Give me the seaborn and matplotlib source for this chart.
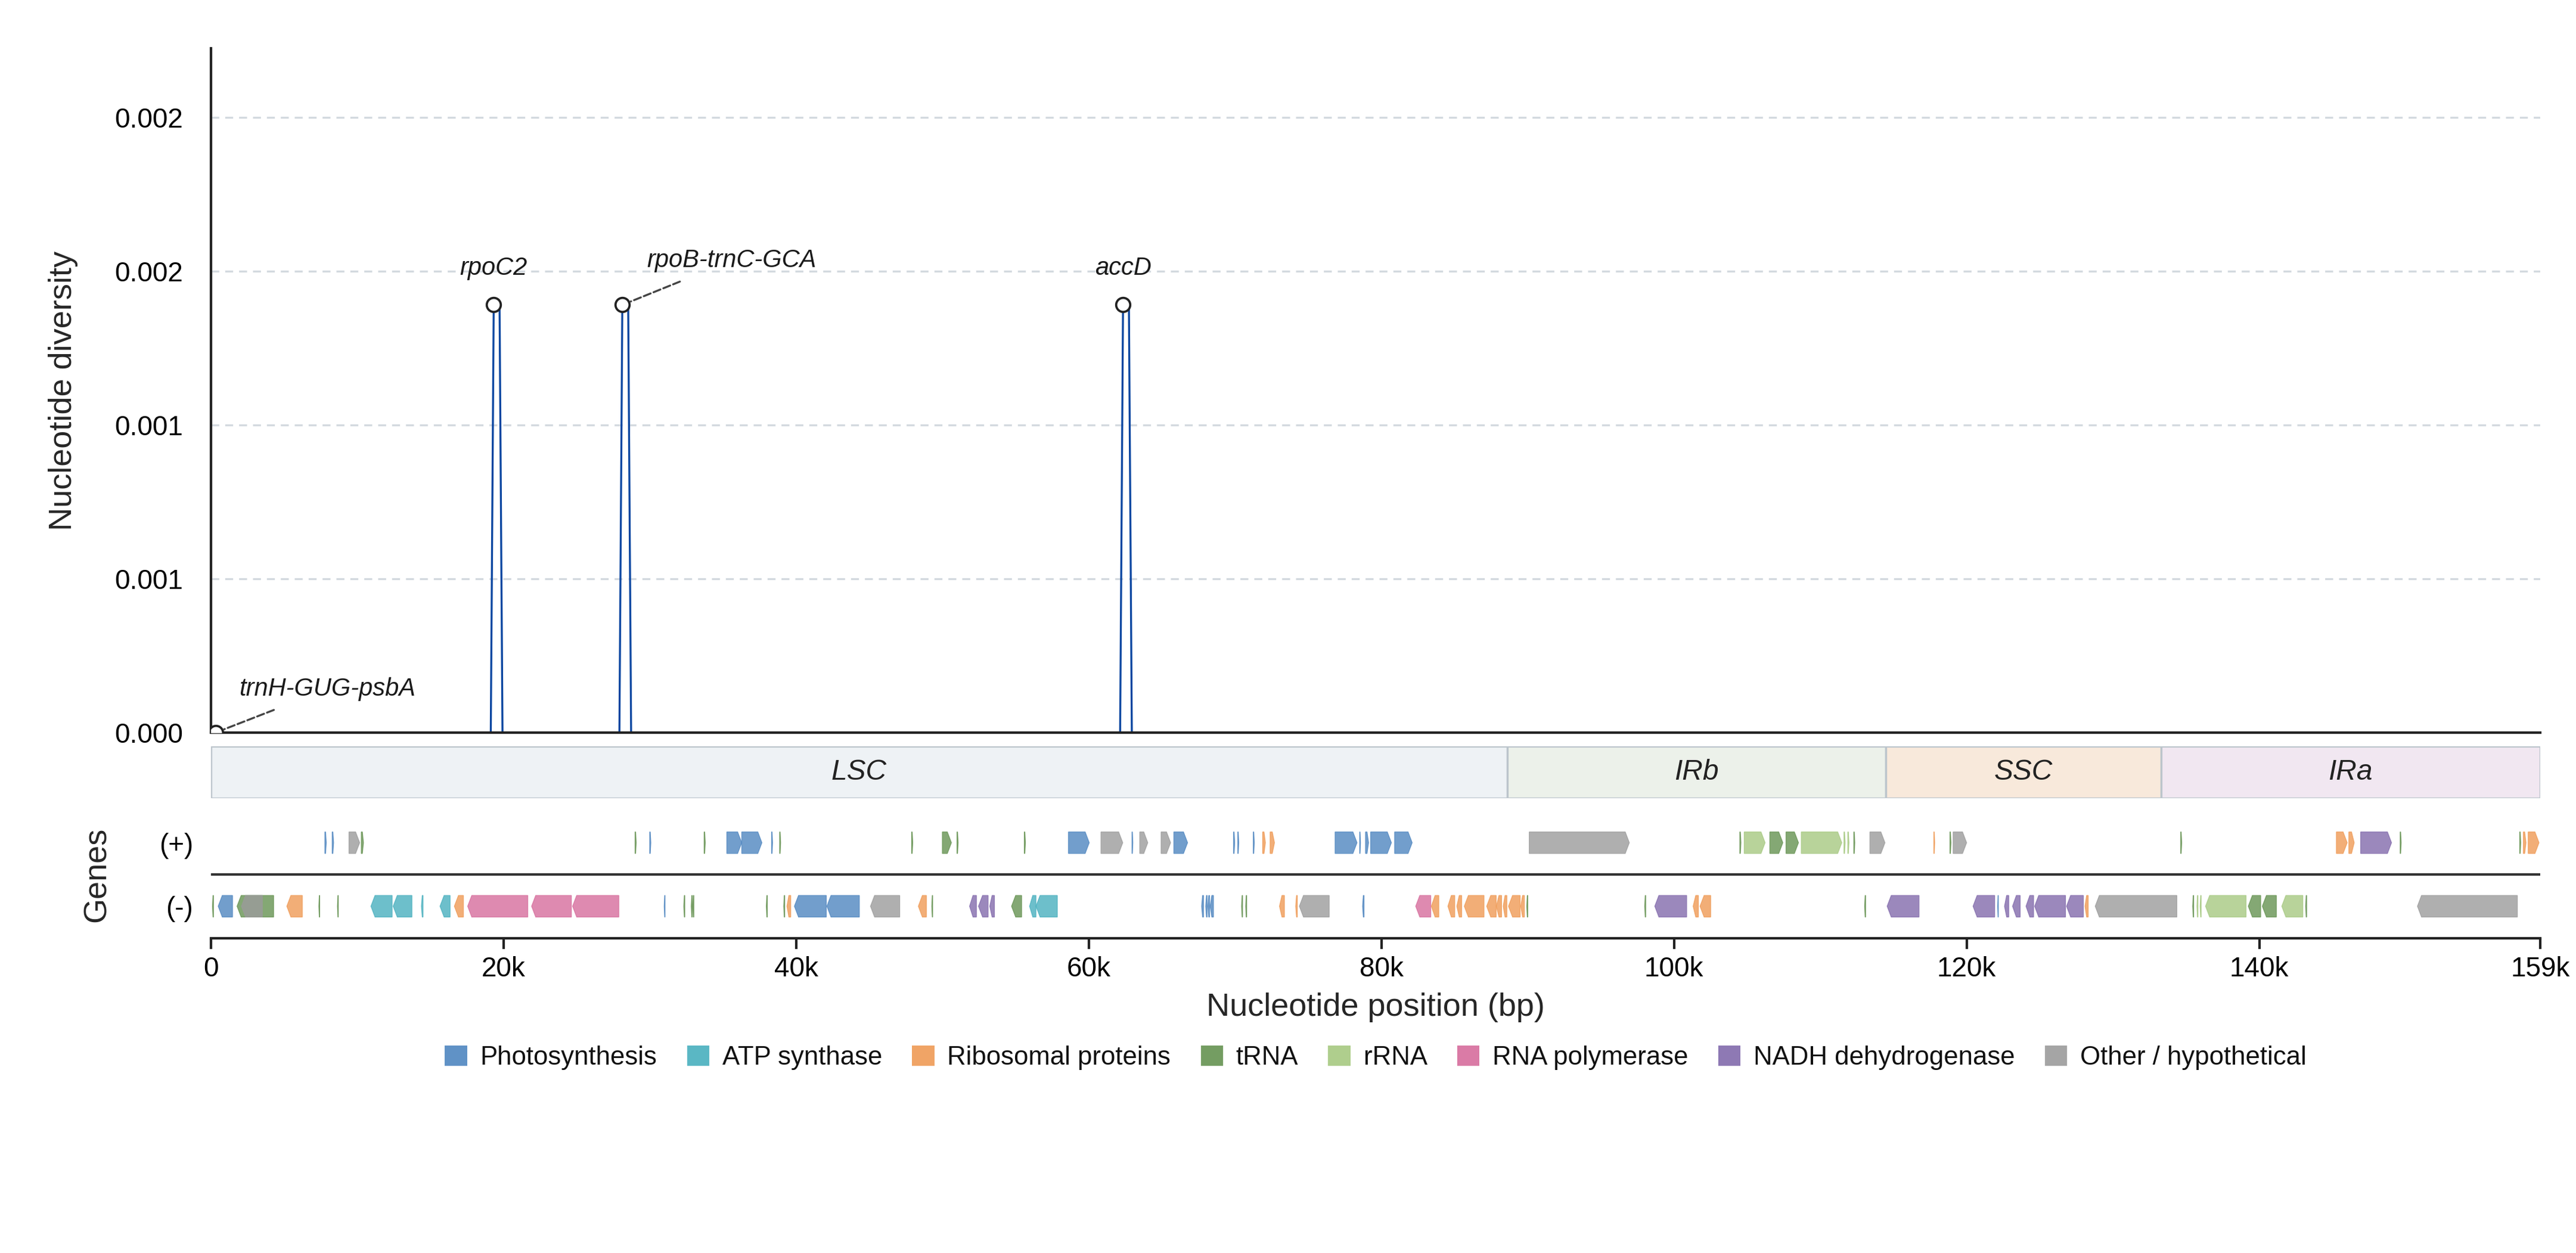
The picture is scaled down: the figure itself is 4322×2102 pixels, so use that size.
import matplotlib
matplotlib.use("Agg")
import numpy as np
import pandas as pd
import matplotlib.pyplot as plt
import seaborn as sns
from matplotlib.patches import Polygon, Rectangle, Patch

GENOME_LEN = 159200

# sliding-window nucleotide diversity (windows where the curve changes)
pi_pos = [330, 19140, 19340, 19540, 19740, 19940,
          27930, 28130, 28330, 28530, 28730,
          62150, 62350, 62550, 62750, 62950, 158900]
pi_val = [0, 0, 0.00139, 0.00139, 0.00139, 0,
          0, 0.00139, 0.00139, 0.00139, 0,
          0, 0.00139, 0.00139, 0.00139, 0, 0]

# labelled windows
peak_labels = ["trnH-GUG-psbA", "rpoC2", "rpoB-trnC-GCA", "accD"]
peak_pos = [330, 19340, 28130, 62350]
peak_val = [0, 0.00139, 0.00139, 0.00139]

region_names = ["LSC", "IRb", "SSC", "IRa"]
region_start = [0, 88600, 114480, 133280]
region_end = [88600, 114480, 133280, 159200]
region_colors = ["#eef2f5", "#ecf1ea", "#f8e9db", "#f1e7f1"]

cat_codes = ["PS", "ATP", "RP", "TRNA", "RRNA", "RNAP", "NDH", "OTH"]
cat_names = ["Photosynthesis", "ATP synthase", "Ribosomal proteins", "tRNA",
             "rRNA", "RNA polymerase", "NADH dehydrogenase", "Other / hypothetical"]
cat_colors = ["#4f86c0", "#48afbe", "#ef9a55", "#659251",
              "#a6c981", "#d66d9c", "#826aac", "#9b9b9b"]

# genes on the (+) strand
plus_start = [7800, 8300, 9450, 10290, 29000, 30000, 33720, 35270, 36290, 38330,
              38880, 47900, 50000, 51000, 55600, 58620, 60840, 62960, 63490, 64950,
              65820, 69900, 70190, 71250, 71890, 72400, 76840, 78520, 78920, 79270,
              80910, 90110, 104500, 104800, 106550, 107660, 108700, 111620, 111880, 112290,
              113390, 117760, 118860, 119080, 134630, 145270, 146120, 146930, 149630, 157800,
              158050, 158380]
plus_end = [7900, 8400, 10180, 10440, 29080, 30080, 33800, 36290, 37670, 38400,
            38950, 47980, 50620, 51080, 55680, 60040, 62330, 63020, 64040, 65600,
            66760, 69980, 70260, 71320, 72080, 72700, 78340, 78580, 79130, 80690,
            82110, 96950, 104580, 106230, 107440, 108510, 111470, 111700, 111960, 112360,
            114420, 117820, 118930, 120000, 134700, 146010, 146490, 149040, 149700, 157870,
            158230, 159120]
plus_cat = ["PS", "PS", "OTH", "TRNA", "TRNA", "PS", "TRNA", "PS", "PS", "PS",
            "TRNA", "TRNA", "TRNA", "TRNA", "TRNA", "PS", "OTH", "PS", "OTH", "OTH",
            "PS", "PS", "PS", "PS", "RP", "RP", "PS", "PS", "PS", "PS",
            "PS", "OTH", "TRNA", "RRNA", "TRNA", "TRNA", "RRNA", "RRNA", "RRNA", "TRNA",
            "OTH", "RP", "TRNA", "OTH", "TRNA", "RP", "RP", "NDH", "TRNA", "TRNA",
            "RP", "RP"]

# genes on the (-) strand
minus_start = [120, 510, 1800, 2100, 5200, 7390, 8660, 10950, 12470, 14400,
               15670, 16650, 17560, 21930, 24730, 30990, 32330, 32840, 32950, 37970,
               39160, 39380, 39890, 42110, 45090, 48360, 49280, 51860, 52470, 53240,
               54730, 55960, 56400, 67720, 68000, 68150, 68300, 70450, 70730, 73040,
               74150, 74400, 78720, 82350, 83420, 84550, 85160, 85670, 87200, 87860,
               88330, 88690, 89530, 89940, 98000, 98690, 101310, 101780, 113030, 114570,
               120440, 122120, 122590, 123140, 124060, 124650, 126830, 128090, 128790, 135450,
               135740, 135960, 136330, 139250, 140210, 141540, 143170, 150810]
minus_end = [190, 1490, 4300, 3530, 6260, 7450, 8720, 12400, 13750, 14510,
             16360, 17270, 21670, 24650, 27890, 31050, 32400, 32910, 33020, 38040,
             39230, 39640, 42070, 44330, 47090, 48910, 49340, 52330, 53130, 53560,
             55420, 56400, 57860, 67850, 68100, 68260, 68530, 70520, 70800, 73380,
             74260, 76440, 78820, 83380, 83930, 85020, 85490, 87020, 87850, 88220,
             88580, 89490, 89780, 90010, 98070, 100870, 101670, 102510, 113100, 116750,
             121920, 122170, 122880, 123660, 124580, 126760, 127980, 128310, 134370, 135520,
             135810, 136030, 139100, 140100, 141170, 142980, 143240, 157640]
minus_cat = ["TRNA", "PS", "TRNA", "OTH", "RP", "TRNA", "TRNA", "ATP", "ATP", "ATP",
             "ATP", "RP", "RNAP", "RNAP", "RNAP", "PS", "TRNA", "TRNA", "TRNA", "TRNA",
             "TRNA", "RP", "PS", "PS", "OTH", "RP", "TRNA", "NDH", "NDH", "NDH",
             "TRNA", "ATP", "ATP", "PS", "PS", "PS", "PS", "TRNA", "TRNA", "RP",
             "RP", "OTH", "PS", "RNAP", "RP", "RP", "RP", "RP", "RP", "RP",
             "RP", "RP", "RP", "TRNA", "TRNA", "NDH", "RP", "RP", "TRNA", "NDH",
             "NDH", "PS", "NDH", "NDH", "NDH", "NDH", "NDH", "RP", "OTH", "TRNA",
             "RRNA", "RRNA", "RRNA", "TRNA", "TRNA", "RRNA", "TRNA", "OTH"]

x_ticks = [0, 20000, 40000, 60000, 80000, 100000, 120000, 140000, GENOME_LEN]

sns.set_theme(style="white")
plt.rcParams["font.family"] = ["Liberation Sans", "DejaVu Sans"]
plt.rcParams["axes.edgecolor"] = "#222222"
plt.rcParams["text.color"] = "#111111"

color_of = dict(zip(cat_codes, cat_colors))
ink = "#222222"

fig = plt.figure(figsize=(4322 / 300, 2102 / 300), dpi=300)
left, width = 0.0818, 0.9043
ax_pi = fig.add_axes([left, 0.4153, width, 0.5462])
ax_reg = fig.add_axes([left, 0.3630, width, 0.0415])
ax_gene = fig.add_axes([left, 0.2514, width, 0.1014])

# --- nucleotide diversity panel
pi_df = pd.DataFrame({"pos": pi_pos, "pi": pi_val})
sns.lineplot(data=pi_df, x="pos", y="pi", ax=ax_pi, color="#0d47a1",
             linewidth=0.8, estimator=None, sort=True)
ax_pi.scatter(peak_pos, peak_val, s=32, facecolor="white", edgecolor=ink,
              linewidths=0.9, zorder=5)

ytop = max(pi_val) * 1.6
ax_pi.set_xlim(0, GENOME_LEN)
ax_pi.set_ylim(0, ytop)
yt = [0, 0.0005, 0.001, 0.0015, 0.002, ytop]
ax_pi.set_yticks(yt, [f"{v:.3f}" for v in yt[:-1]] + [""])
ax_pi.tick_params(axis="y", length=4.7, width=1.0, pad=6.5, labelsize=11,
                  colors=ink, labelcolor="black")
ax_pi.tick_params(axis="x", length=0, labelbottom=False)
ax_pi.grid(False)
for v in yt[1:-1]:
    ax_pi.axhline(v, color="#d3d9df", lw=0.8, ls=(0, (4, 3)), zorder=0)
for s in ["top", "right"]:
    ax_pi.spines[s].set_visible(False)
for s in ["left", "bottom"]:
    ax_pi.spines[s].set_linewidth(1.0)
    ax_pi.spines[s].set_color(ink)
ax_pi.set_xlabel("")
ax_pi.set_ylabel("Nucleotide diversity", fontsize=13)
ax_pi.yaxis.set_label_coords(-0.057, 0.5)

label_style = {
    "trnH-GUG-psbA": (45, 17.5, True),
    "rpoC2": (0, 14.7, False),
    "rpoB-trnC-GCA": (44, 17.8, True),
    "accD": (0, 14.7, False),
}
for lbl, x, y in zip(peak_labels, peak_pos, peak_val):
    dx, dy, leader = label_style[lbl]
    arrow = None
    if leader:
        arrow = dict(arrowstyle="-", linestyle="--", color="#444444", lw=0.8,
                     shrinkA=4, shrinkB=3.6, relpos=(0.5, 0.5))
    ax_pi.annotate(lbl, xy=(x, y), xytext=(dx, dy), textcoords="offset points",
                   ha="center", va="center", fontsize=10, style="italic",
                   color="#1a1a1a", arrowprops=arrow, zorder=6,
                   annotation_clip=False)

# --- region bar
for name, s, e, c in zip(region_names, region_start, region_end, region_colors):
    ax_reg.add_patch(Rectangle((s, 0), e - s, 1, facecolor=c, edgecolor="#bcc5cc",
                               linewidth=0.8))
    ax_reg.text((s + e) / 2, 0.5, name, ha="center", va="center", fontsize=11.5,
                style="italic", color=ink)
ax_reg.set_xlim(0, GENOME_LEN)
ax_reg.set_ylim(0, 1)
ax_reg.axis("off")


# --- gene track
def draw_gene(ax, start, end, strand, color, y, h=0.34, head=280):
    hl = min(head, (end - start) * 0.5)
    if strand > 0:
        pts = [(start, y - h / 2), (end - hl, y - h / 2), (end, y),
               (end - hl, y + h / 2), (start, y + h / 2)]
    else:
        pts = [(end, y - h / 2), (start + hl, y - h / 2), (start, y),
               (start + hl, y + h / 2), (end, y + h / 2)]
    ax.add_patch(Polygon(pts, closed=True, facecolor=color, edgecolor=color,
                         linewidth=0.3, alpha=0.8, zorder=3))


for s, e, c in zip(plus_start, plus_end, plus_cat):
    draw_gene(ax_gene, s, e, 1, color_of[c], 0.5)
for s, e, c in zip(minus_start, minus_end, minus_cat):
    draw_gene(ax_gene, s, e, -1, color_of[c], -0.5)

ax_gene.axhline(0, color="#333333", lw=1.0, zorder=2)
ax_gene.set_xlim(0, GENOME_LEN)
ax_gene.set_ylim(-1, 1)
ax_gene.set_yticks([0.5, -0.5], ["(+)", "(-)"])
ax_gene.set_xticks(x_ticks, ["0" if t == 0 else f"{t / 1000:.0f}k" for t in x_ticks])
ax_gene.tick_params(axis="y", length=0, pad=7, labelsize=11, labelcolor="black")
ax_gene.tick_params(axis="x", length=4.4, width=1.0, pad=3, labelsize=11,
                    colors=ink, labelcolor="black", bottom=True)
for s in ["top", "right", "left"]:
    ax_gene.spines[s].set_visible(False)
ax_gene.spines["bottom"].set_linewidth(1.0)
ax_gene.spines["bottom"].set_color(ink)
ax_gene.set_xlabel("Nucleotide position (bp)", fontsize=13, labelpad=4)
ax_gene.set_ylabel("Genes", fontsize=13)
ax_gene.yaxis.set_label_coords(-0.0425, 0.5)

handles = [Patch(facecolor=c, edgecolor="none", alpha=0.9, label=n)
           for n, c in zip(cat_names, cat_colors)]
fig.legend(handles=handles, loc="center", bbox_to_anchor=(0.534, 0.1558), ncol=8,
           frameon=False, fontsize=10.5, handlelength=0.85, handleheight=0.8,
           handletextpad=0.5, columnspacing=1.15)

fig.savefig("out.png", dpi=300)
